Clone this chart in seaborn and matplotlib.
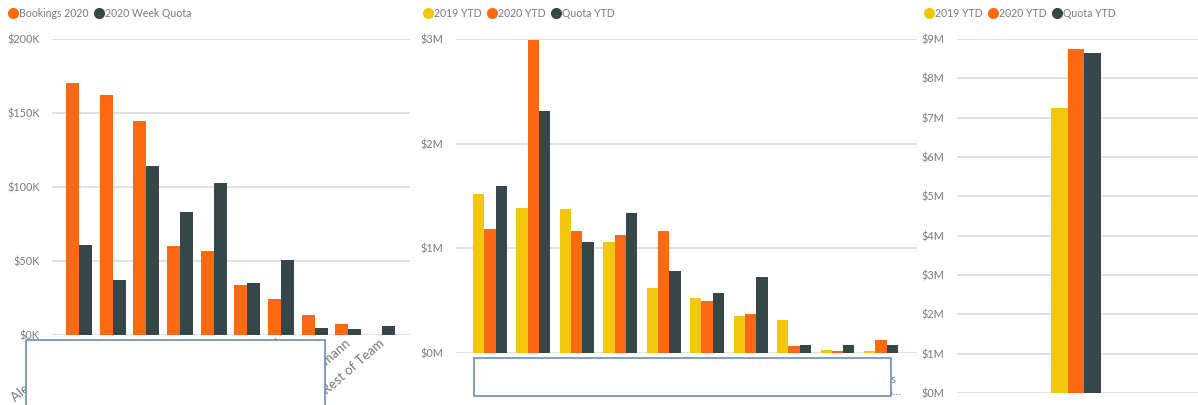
import matplotlib
matplotlib.use("Agg")
import matplotlib.pyplot as plt
from matplotlib.lines import Line2D
from matplotlib.patches import Rectangle
from matplotlib.ticker import FuncFormatter, MultipleLocator
import seaborn as sns
import pandas as pd

# ---------------- data ----------------
reps = ["Alexa Bergman", "Ben Roth", "Clara Weber", "Dan Koch", "Eva Schulz",
        "Felix Braun", "Greta Vogel", "Hanna Kraus", "Jo Hofmann", "Rest of Team"]
bookings_2020 = [170, 162, 144.5, 60, 57, 34, 24, 13.5, 7.5, 0]          # $K
week_quota_2020 = [61, 37, 114, 83, 103, 35, 51, 5, 4, 6]               # $K

reps2 = ["Alexa\nBerg", "Ben\nRoth", "Clara\nWeber", "Dan\nKoch", "Eva\nSchulz",
         "Felix\nBraun", "Greta\nVogel", "Hanna\nKraus", "Jo\nHof", "Rest\nTeams\nOthers…"]
ytd_2019 = [1.52, 1.39, 1.38, 1.06, 0.62, 0.53, 0.35, 0.32, 0.03, 0.02]  # $M
ytd_2020 = [1.18, 2.99, 1.17, 1.13, 1.17, 0.50, 0.37, 0.07, 0.015, 0.12]  # $M
quota_ytd = [1.60, 2.31, 1.06, 1.34, 0.78, 0.57, 0.73, 0.08, 0.08, 0.08]  # $M

total_cat = ["Total"]
total_2019 = [7.25]
total_2020 = [8.75]
total_quota = [8.65]

YELLOW = "#F2C80F"
ORANGE = "#FE6A14"
DARK = "#374649"
GRID = "#DEDEDE"
TXT = "#7A7A7A"

sns.set_theme(style="white")
plt.rcParams["font.family"] = ["Lato", "DejaVu Sans"]

fig = plt.figure(figsize=(11.98, 4.05), dpi=100)
W, H = 1198, 405


def axbox(x0, x1, ytop, ybot):
    return [x0 / W, (H - ybot) / H, (x1 - x0) / W, (ybot - ytop) / H]


def style(ax):
    for s in ax.spines.values():
        s.set_visible(False)
    ax.grid(axis="y", color=GRID, linewidth=1.3)
    ax.set_axisbelow(True)
    ax.tick_params(axis="y", length=0, pad=9, labelsize=7.8, labelcolor=TXT)
    ax.tick_params(axis="x", length=0, labelcolor=TXT)
    ax.set_xlabel("")
    ax.set_ylabel("")


# ---- panel 1 ----
ax1 = fig.add_axes(axbox(52, 410, 39, 335))
df1 = pd.DataFrame({
    "rep": reps * 2,
    "value": bookings_2020 + week_quota_2020,
    "series": ["Bookings 2020"] * len(reps) + ["2020 Week Quota"] * len(reps),
})
sns.barplot(data=df1, x="rep", y="value", hue="series", palette=[ORANGE, DARK],
            width=0.77, saturation=1, legend=False, ax=ax1, errorbar=None, linewidth=0)
style(ax1)
ax1.set_ylim(0, 200)
ax1.set_xlim(-0.8, 9.83)
ax1.yaxis.set_major_locator(MultipleLocator(50))
ax1.yaxis.set_major_formatter(FuncFormatter(lambda v, p: f"${v:.0f}K"))
ax1.tick_params(axis="x", labelsize=9.5, pad=5)
for lab in ax1.get_xticklabels():
    lab.set_rotation(41)
    lab.set_ha("right")
    lab.set_va("center")
    lab.set_rotation_mode("anchor")

# ---- panel 2 ----
ax2 = fig.add_axes(axbox(456, 917, 39, 353))
df2 = pd.DataFrame({
    "rep": reps2 * 3,
    "value": ytd_2019 + ytd_2020 + quota_ytd,
    "series": ["2019 YTD"] * 10 + ["2020 YTD"] * 10 + ["Quota YTD"] * 10,
})
sns.barplot(data=df2, x="rep", y="value", hue="series", palette=[YELLOW, ORANGE, DARK],
            width=0.78, saturation=1, legend=False, ax=ax2, errorbar=None, linewidth=0)
style(ax2)
ax2.set_ylim(0, 3)
ax2.set_xlim(-0.78, 9.83)
ax2.yaxis.set_major_locator(MultipleLocator(1))
ax2.yaxis.set_major_formatter(FuncFormatter(lambda v, p: f"${v:.0f}M"))
ax2.tick_params(axis="x", labelsize=8, pad=6)
for lab in ax2.get_xticklabels():
    lab.set_linespacing(1.15)

# ---- panel 3 ----
ax3 = fig.add_axes(axbox(957, 1198, 39, 393))
df3 = pd.DataFrame({
    "cat": total_cat * 3,
    "value": total_2019 + total_2020 + total_quota,
    "series": ["2019 YTD", "2020 YTD", "Quota YTD"],
})
sns.barplot(data=df3, x="cat", y="value", hue="series", palette=[YELLOW, ORANGE, DARK],
            width=0.8, saturation=1, legend=False, ax=ax3, errorbar=None, linewidth=0)
style(ax3)
ax3.set_ylim(0, 9)
ax3.set_xlim(-1.9, 1.95)
ax3.yaxis.set_major_locator(MultipleLocator(1))
ax3.yaxis.set_major_formatter(FuncFormatter(lambda v, p: f"${v:.0f}M"))
ax3.set_xticks([])

# ---- legends ----
def legend(x, y, labels, colors):
    handles = [Line2D([], [], marker="o", linestyle="", markersize=7,
                      markerfacecolor=c, markeredgecolor=c) for c in colors]
    fig.legend(handles, labels, loc="upper left", bbox_to_anchor=(x / W, 1 - y / H),
               ncol=len(labels), frameon=False, fontsize=7.6, labelcolor=TXT,
               handletextpad=0.05, columnspacing=0.5, handlelength=1.0,
               borderaxespad=0, borderpad=0)

legend(8, 8, ["Bookings 2020", "2020 Week Quota"], [ORANGE, DARK])
legend(423, 8, ["2019 YTD", "2020 YTD", "Quota YTD"], [YELLOW, ORANGE, DARK])
legend(924, 8, ["2019 YTD", "2020 YTD", "Quota YTD"], [YELLOW, ORANGE, DARK])

# ---- redaction boxes ----
fig.add_artist(Rectangle((26 / W, -0.01), 299 / W, (H - 340) / H + 0.01,
                         transform=fig.transFigure, facecolor="white",
                         edgecolor="#5F84B0", linewidth=1.1, zorder=10))
fig.add_artist(Rectangle((474 / W, (H - 396) / H), 417 / W, 38 / H,
                         transform=fig.transFigure, facecolor="white",
                         edgecolor="#5F84B0", linewidth=1.1, zorder=10))

fig.savefig("out.png", dpi=100, facecolor="white")
